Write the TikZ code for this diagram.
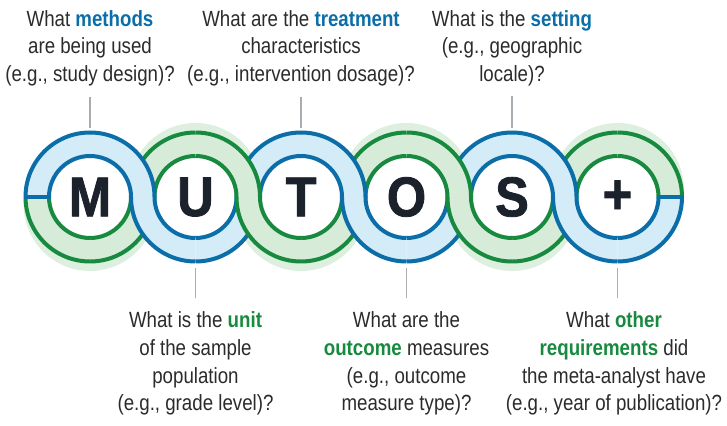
\documentclass[tikz,border=0pt]{standalone}
\usepackage{fontspec}
\setmainfont{Liberation Sans}[FakeStretch=0.85]
\newfontfamily\letterfont{Liberation Sans}[FakeStretch=0.9, BoldFeatures={FakeBold=1.5}]
\definecolor{BLUE}{HTML}{0B6EA8}
\definecolor{BLUE_A}{HTML}{D3ECF8}
\definecolor{GREEN}{HTML}{178A3F}
\definecolor{GREEN_A}{HTML}{D7EBD9}
\definecolor{GREEN_B}{HTML}{DDEFDF}
\definecolor{INK}{HTML}{1B222B}
\definecolor{TXT}{HTML}{2B2B2B}
\definecolor{GREY}{HTML}{A8ADB2}
\tikzset{
	every node/.style = {inner sep=0pt},
	ask/.style = {font=\fontsize{22}{27.8}\selectfont, align=center, text=TXT},
	letter/.style = {font=\letterfont\bfseries\fontsize{56}{56}\selectfont, text=INK},
	link/.style = {draw=GREY, line width=1.5pt}
}
\newcommand{\blueword}[1]{\textbf{\color{BLUE}#1}}
\newcommand{\greenword}[1]{\textbf{\color{GREEN}#1}}
% quarter of a ring: centre x, from angle, to angle, colour
\newcommand{\bandfill}[4]{\path[fill=#4] (#1,228) ++(#2:64.5) arc[start angle=#2, end angle=#3, radius=64.5] -- ++(#3:-23.5) arc[start angle=#3, end angle=#2, radius=41] -- cycle;}
\newcommand{\bandline}[4]{%
	\draw[draw=#4, line width=4pt] (#1,228) ++(#2:64.5) arc[start angle=#2, end angle=#3, radius=64.5];
	\draw[draw=#4, line width=4pt] (#1,228) ++(#2:41) arc[start angle=#2, end angle=#3, radius=41];}

\begin{document}
\begin{tikzpicture}[x=1pt, y=1pt]
		\useasboundingbox (0,0) rectangle (727,425);
		
		% halos behind the green halves
		\foreach \x/\y/\a/\b in {90/220.5/173.5/366.5, 195.5/235.5/186.5/-6.5, 301/220.5/173.5/366.5, 406.5/235.5/186.5/-6.5, 512/220.5/173.5/366.5, 617.5/235.5/186.5/-6.5}
			\fill[GREEN_B] (\x,\y) ++(\a:66.5) arc[start angle=\a, end angle=\b, radius=66.5] -- cycle;
		% white middles
		\foreach \x in {90, 195.5, 301, 406.5, 512, 617.5}
			\fill[white] (\x,228) circle (41);
		
		% lower layer: top left and bottom right quarters
		\foreach \x/\up/\dn in {90/BLUE/GREEN, 195.5/GREEN/BLUE, 301/BLUE/GREEN, 406.5/GREEN/BLUE, 512/BLUE/GREEN, 617.5/GREEN/BLUE}{
			\bandfill{\x}{90}{180}{\up_A}
			\bandfill{\x}{270}{360}{\dn_A}
		}
		\foreach \x/\up/\dn in {90/BLUE/GREEN, 195.5/GREEN/BLUE, 301/BLUE/GREEN, 406.5/GREEN/BLUE, 512/BLUE/GREEN, 617.5/GREEN/BLUE}{
			\bandline{\x}{90}{180}{\up}
			\bandline{\x}{270}{360}{\dn}
		}
		
		% upper layer: top right and bottom left quarters
		\foreach \x/\up/\dn in {90/BLUE/GREEN, 195.5/GREEN/BLUE, 301/BLUE/GREEN, 406.5/GREEN/BLUE, 512/BLUE/GREEN, 617.5/GREEN/BLUE}{
			\bandfill{\x}{0}{90}{\up_A}
			\bandfill{\x}{180}{270}{\dn_A}
		}
		\foreach \x/\up/\dn in {90/BLUE/GREEN, 195.5/GREEN/BLUE, 301/BLUE/GREEN, 406.5/GREEN/BLUE, 512/BLUE/GREEN, 617.5/GREEN/BLUE}{
			\bandline{\x}{0}{90}{\up}
			\bandline{\x}{180}{270}{\dn}
		}
		
		% ends of the chain
		\draw[draw=BLUE, line width=4pt] (23.5,228) -- (51,228);
		\draw[draw=BLUE, line width=4pt] (656.5,228) -- (684,228);
		
		% letters
		\node[letter] (m) at (90,228) {M};
		\node[letter] (u) at (195.5,228) {U};
		\node[letter] (t) at (301,228) {T};
		\node[letter] (o) at (406.5,228) {O};
		\node[letter] (s) at (512,228) {S};
		\node[letter] (p) at (617.5,228) {+};
		
		% questions above
		\node[ask, anchor=north] (qm) at (90,415) {What \blueword{methods}\\are being used\\(e.g., study design)?};
		\node[ask, anchor=north] (qt) at (301,415) {What are the \blueword{treatment}\\characteristics\\(e.g., intervention dosage)?};
		\node[ask, anchor=north] (qs) at (512,415) {What is the \blueword{setting}\\(e.g., geographic\\locale)?};
		
		% questions below
		\node[ask, anchor=north] (qu) at (195.5,113.7) {What is the \greenword{unit}\\of the sample\\population\\(e.g., grade level)?};
		\node[ask, anchor=north] (qo) at (406.5,113.7) {What are the\\\greenword{outcome} measures\\(e.g., outcome\\measure type)?};
		\node[ask, anchor=north] (qp) at (614,113.7) {What \greenword{other}\\\greenword{requirements} did\\the meta-analyst have\\(e.g., year of publication)?};
		
		% connectors
		\draw[link] ([yshift=-10pt]qm.south) -- ([yshift=69pt]m.center);
		\draw[link] ([yshift=-10pt]qt.south) -- ([yshift=69pt]t.center);
		\draw[link] ([yshift=-10pt]qs.south) -- ([yshift=69pt]s.center);
		\draw[link] ([yshift=13pt]qu.north) -- ([yshift=-71pt]u.center);
		\draw[link] ([yshift=13pt]qo.north) -- ([yshift=-71pt]o.center);
		\draw[link] ([yshift=13pt]qp.north -| p.center) -- ([yshift=-71pt]p.center);
	\end{tikzpicture}
\end{document}
